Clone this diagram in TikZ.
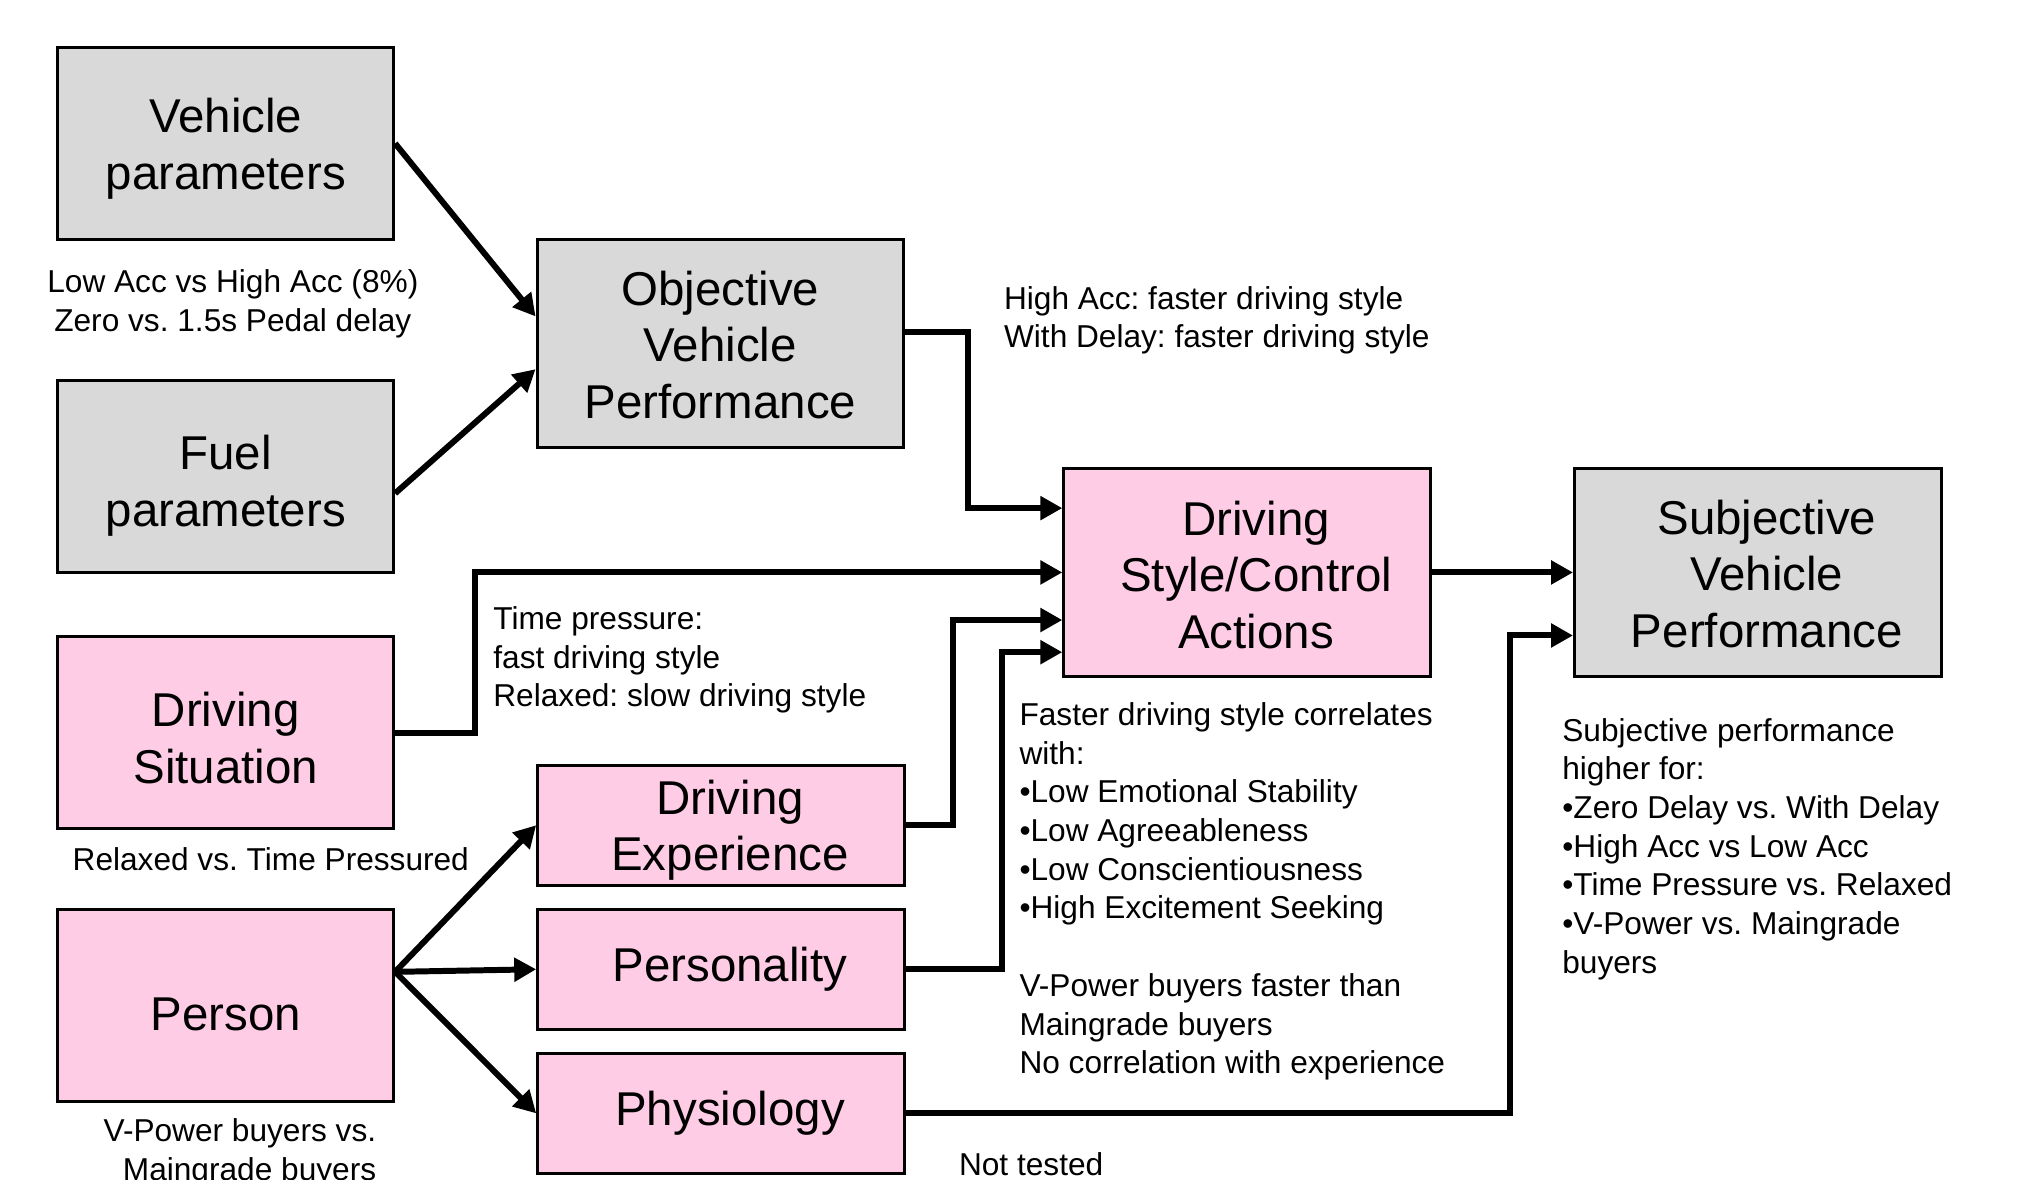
\documentclass[tikz,border=0pt]{standalone}
\usepackage{fontspec}
\setmainfont{Liberation Sans}
\frenchspacing
\usetikzlibrary{positioning, calc}
\usetikzlibrary{arrows, arrows.meta}
\tikzset{>={Triangle[length=2.2mm, width=2.3mm]}}
\definecolor{boxgrey}{HTML}{D9D9D9}
\definecolor{boxpink}{HTML}{FFCCE6}
\newlength{\px}
\setlength{\px}{0.1286mm}

\begin{document}
\begin{tikzpicture}[x=0.1286mm, y=-0.1286mm,
    box/.style={draw, line width=0.85pt, inner sep=0pt},
    greybox/.style={box, fill=boxgrey},
    pinkbox/.style={box, fill=boxpink},
    squarebox/.style={minimum width=261*\px, minimum height=149*\px},
    bigbox/.style={minimum width=285*\px, minimum height=162*\px},
    flatbox/.style={minimum width=285*\px, minimum height=93*\px},
    boxtext/.style={inner sep=0pt, align=center, font=\fontsize{13.5}{16.1}\selectfont},
    % box title, nudged by (#1,#2) px from the centre
    title/.style n args={3}{label={[boxtext, xshift=#1*\px, yshift=#2*\px]center:{#3}}},
    note/.style={inner sep=0pt, align=left, font=\fontsize{9}{11}\selectfont},
    flow/.style={->, line width=1.7pt}]
  \useasboundingbox (0,0) rectangle (1568,917);

  % Inputs on the left
  \node[greybox, squarebox, title={0}{-4}{Vehicle\\parameters}] (vehpar) at (175.5,111.5) {};
  \node[greybox, squarebox, title={0}{-7}{Fuel\\parameters}] (fuelpar) at (175.5,370.5) {};
  \node[pinkbox, squarebox, title={0}{-4}{Driving\\Situation}] (drivsit) at (175.5,569.5) {};
  \node[pinkbox, squarebox, title={0}{-7}{Person}] (person) at (175.5,781.5) {};

  % Middle column
  \node[greybox, bigbox, title={0}{-1}{Objective\\Vehicle\\Performance}] (objperf) at (560,267) {};
  \node[pinkbox, flatbox, title={7}{-4}{Driving\\Experience}] (drivexp) at (560.5,641.5) {};
  \node[pinkbox, flatbox, title={7}{0}{Personality}] (personal) at (560.5,753.5) {};
  \node[pinkbox, flatbox, title={7}{0}{Physiology}] (physio) at (560.5,865.5) {};

  % Outcomes
  \node[pinkbox, bigbox, title={7}{-2}{Driving\\Style/Control\\Actions}] (ctrl) at (969.5,445) {};
  \node[greybox, bigbox, title={7}{-1}{Subjective\\Vehicle\\Performance}] (subjperf) at (1366.5,445) {};

  % Arrows
  \draw[flow] (vehpar.east) -- ([yshift=21*\px]objperf.west);
  \draw[flow] ([yshift=-13*\px]fuelpar.east) -- ([yshift=-20*\px]objperf.west);
  \foreach \n in {drivexp, personal, physio}
    \draw[flow] ([yshift=26*\px]person.east) -- (\n.west);
  \draw[flow] ([yshift=9*\px]objperf.east) -- ++(49,0) |- ([yshift=50*\px]ctrl.west);
  \draw[flow] (drivsit.east) -- ++(62,0) |- (ctrl.west);
  \draw[flow] (drivexp.east) -- ++(37,0) |- ([yshift=-37*\px]ctrl.west);
  \draw[flow] (personal.east) -- ++(75,0) |- ([yshift=-62*\px]ctrl.west);
  \draw[flow] (ctrl.east) -- (subjperf.west);
  \draw[flow] (physio.east) -- ++(470,0) |- ([yshift=-49*\px]subjperf.west);

  % Findings
  \node[note, align=center] (vehnote) at (181,236)
    {Low Acc vs High Acc (8\%)\\Zero vs. 1.5s Pedal delay};
  \node[note, anchor=west] (objnote) at (780,249)
    {High Acc: faster driving style\\With Delay: faster driving style};
  \node[note, anchor=west] (timenote) at (383,513)
    {Time pressure:\\fast driving style\\Relaxed: slow driving style};
  \node[note] (sitnote) at (210.5,668) {Relaxed vs. Time Pressured};
  \node[note, align=right, anchor=east] (pernote) at (293,896)
    {V-Power buyers vs.\\Maingrade buyers};
  \node[note, anchor=west] (ctrlnote) at (792,693)
    {Faster driving style correlates\\with:\\•Low Emotional Stability\\•Low Agreeableness\\%
     •Low Conscientiousness\\•High Excitement Seeking\\[11pt]%
     V-Power buyers faster than\\Maingrade buyers\\No correlation with experience};
  \node[note, anchor=west] (subjnote) at (1214,660)
    {Subjective performance\\higher for:\\•Zero Delay vs. With Delay\\•High Acc vs Low Acc\\%
     •Time Pressure vs. Relaxed\\•V-Power vs. Maingrade\\buyers};
  \node[note, anchor=west] (phynote) at (745,905) {Not tested};
\end{tikzpicture}
\end{document}
